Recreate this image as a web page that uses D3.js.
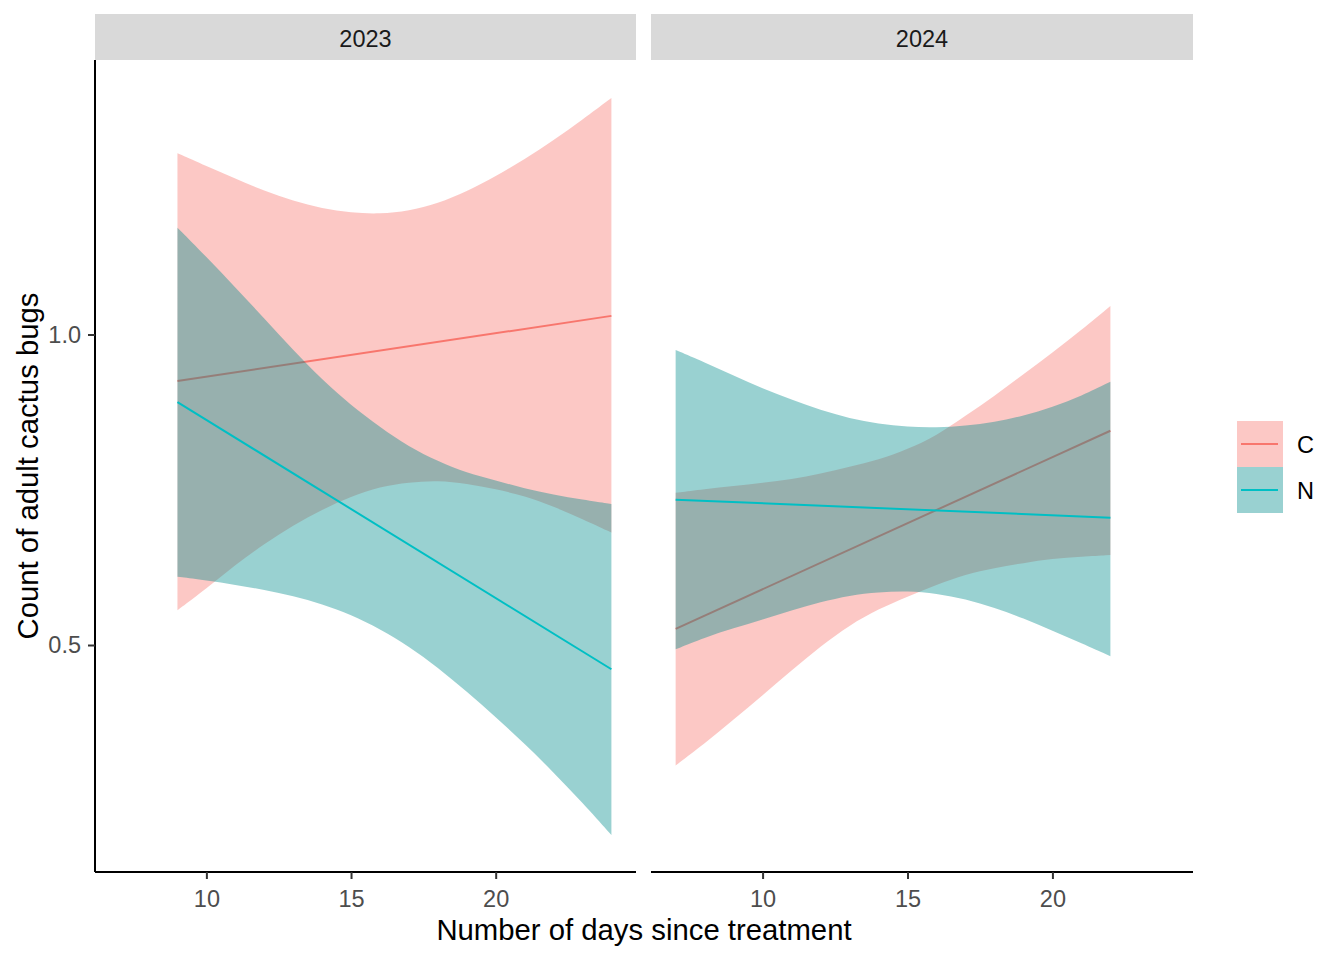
<!DOCTYPE html>
<html>
<head>
<meta charset="utf-8">
<script src="https://cdn.jsdelivr.net/npm/d3@7"></script>
<style>
  html, body { margin: 0; padding: 0; background: #ffffff; }
  svg { display: block; font-family: "Liberation Sans", Arial, sans-serif; }
</style>
</head>
<body>
<svg id="chart" width="1344" height="960"></svg>
<script>
// ---------------- data ----------------
const years = ["2023", "2024"];
const groups = ["C", "N"];

// 2023 panel: confidence ribbons sampled at each day
const days2023 = [9, 10, 11, 12, 13, 14, 15, 16, 17, 18, 19, 20, 21, 22, 23, 24];
const cUpper2023 = [1.292, 1.271, 1.251, 1.231, 1.215, 1.203, 1.196, 1.194, 1.199, 1.211, 1.230, 1.255, 1.282, 1.313, 1.346, 1.381];
const cLower2023 = [0.556, 0.591, 0.629, 0.663, 0.693, 0.718, 0.739, 0.755, 0.762, 0.765, 0.760, 0.751, 0.740, 0.723, 0.703, 0.681];
const nUpper2023 = [1.172, 1.125, 1.076, 1.026, 0.975, 0.927, 0.886, 0.851, 0.819, 0.796, 0.777, 0.765, 0.752, 0.742, 0.734, 0.727];
const nLower2023 = [0.610, 0.604, 0.597, 0.589, 0.579, 0.566, 0.549, 0.526, 0.498, 0.464, 0.425, 0.384, 0.341, 0.295, 0.246, 0.194];

// 2024 panel
const days2024 = [7, 8, 9, 10, 11, 12, 13, 14, 15, 16, 17, 18, 19, 20, 21, 22];
const cUpper2024 = [0.745, 0.751, 0.756, 0.761, 0.767, 0.776, 0.787, 0.798, 0.815, 0.837, 0.869, 0.901, 0.936, 0.971, 1.007, 1.046];
const cLower2024 = [0.306, 0.341, 0.380, 0.419, 0.459, 0.498, 0.532, 0.558, 0.578, 0.597, 0.614, 0.624, 0.632, 0.639, 0.642, 0.645];
const nUpper2024 = [0.975, 0.955, 0.934, 0.913, 0.895, 0.878, 0.865, 0.856, 0.851, 0.850, 0.853, 0.859, 0.869, 0.883, 0.901, 0.924];
const nLower2024 = [0.493, 0.512, 0.527, 0.541, 0.556, 0.569, 0.580, 0.585, 0.587, 0.583, 0.574, 0.560, 0.543, 0.523, 0.503, 0.482];

// fitted straight lines (end points)
const fitDays2023 = [9, 24];
const cFit2023 = [0.925, 1.030];
const nFit2023 = [0.891, 0.461];
const fitDays2024 = [7, 22];
const cFit2024 = [0.526, 0.845];
const nFit2024 = [0.734, 0.705];

const xTicks = [10, 15, 20];
const yTicks = [0.5, 1.0];
const xTitle = "Number of days since treatment";
const yTitle = "Count of adult cactus bugs";

// ---------------- build series ----------------
function ribbon(days, lo, hi) { return days.map((d, i) => ({ x: d, lo: lo[i], hi: hi[i] })); }
function line(days, v) { return days.map((d, i) => ({ x: d, y: v[i] })); }

const panels = [
  { year: "2023",
    series: [
      { g: "C", rib: ribbon(days2023, cLower2023, cUpper2023), fit: line(fitDays2023, cFit2023) },
      { g: "N", rib: ribbon(days2023, nLower2023, nUpper2023), fit: line(fitDays2023, nFit2023) } ] },
  { year: "2024",
    series: [
      { g: "C", rib: ribbon(days2024, cLower2024, cUpper2024), fit: line(fitDays2024, cFit2024) },
      { g: "N", rib: ribbon(days2024, nLower2024, nUpper2024), fit: line(fitDays2024, nFit2024) } ] }
];

// ---------------- styling ----------------
const lineColor = { C: "#F8766D", N: "#00BFC4" };
const fillColor = { C: "#F8766D", N: "#008C8C" };
const fillOpacity = 0.4;

const svg = d3.select("#chart");
const panelTop = 60, panelBottom = 872;
const stripTop = 14;
const panelX = [[95, 636], [651, 1193]];

const y = d3.scaleLinear().domain([0.1345, 1.442]).range([panelBottom, panelTop]);

panels.forEach((p, pi) => {
  const [x0, x1] = panelX[pi];
  const x = d3.scaleLinear().domain([6.15, 24.85]).range([x0, x1]);
  const g = svg.append("g");

  // strip
  g.append("rect").attr("x", x0).attr("y", stripTop).attr("width", x1 - x0).attr("height", panelTop - stripTop)
    .attr("fill", "#D9D9D9");
  g.append("text").attr("x", (x0 + x1) / 2).attr("y", 46.5).attr("text-anchor", "middle")
    .attr("font-size", 23.5).attr("fill", "#1A1A1A").text(p.year);

  const area = d3.area().x(d => x(d.x)).y0(d => y(d.lo)).y1(d => y(d.hi)).curve(d3.curveBasis);
  const ln = d3.line().x(d => x(d.x)).y(d => y(d.y));

  p.series.forEach(s => {
    g.append("path").attr("d", area(s.rib)).attr("fill", fillColor[s.g]).attr("fill-opacity", fillOpacity)
      .attr("stroke", "none");
    g.append("path").attr("d", ln(s.fit)).attr("fill", "none").attr("stroke", lineColor[s.g])
      .attr("stroke-width", 2);
  });

  // x axis
  const xa = g.append("g").attr("transform", `translate(0,${panelBottom})`)
    .call(d3.axisBottom(x).tickValues(xTicks).tickSize(7).tickSizeOuter(0).tickPadding(11).tickFormat(d3.format("d")));
  xa.select(".domain").attr("stroke", "#000").attr("stroke-width", 2).attr("d", `M${x0},0H${x1}`);
  xa.selectAll(".tick line").attr("stroke", "#333333").attr("stroke-width", 2);
  xa.selectAll(".tick text").attr("font-size", 23.5).attr("fill", "#4D4D4D")
    .attr("font-family", "'Liberation Sans', Arial, sans-serif");

  if (pi === 0) {
    const ya = g.append("g").attr("transform", `translate(${x0},0)`)
      .call(d3.axisLeft(y).tickValues(yTicks).tickSize(7).tickSizeOuter(0).tickPadding(7).tickFormat(d3.format(".1f")));
    ya.select(".domain").attr("stroke", "#000").attr("stroke-width", 2).attr("d", `M0,${panelTop}V${panelBottom}`);
    ya.selectAll(".tick line").attr("stroke", "#333333").attr("stroke-width", 2);
    ya.selectAll(".tick text").attr("font-size", 23.5).attr("fill", "#4D4D4D")
      .attr("font-family", "'Liberation Sans', Arial, sans-serif");
  }
});

// axis titles
svg.append("text").attr("x", 644).attr("y", 940).attr("text-anchor", "middle")
  .attr("font-size", 29.3).attr("fill", "#000").text(xTitle);
svg.append("text").attr("transform", `translate(38,466) rotate(-90)`).attr("text-anchor", "middle")
  .attr("font-size", 29.3).attr("fill", "#000").text(yTitle);

// legend
const legend = svg.append("g");
groups.forEach((gname, i) => {
  const ky = 421 + i * 46;
  legend.append("rect").attr("x", 1237).attr("y", ky).attr("width", 46).attr("height", 46)
    .attr("fill", fillColor[gname]).attr("fill-opacity", fillOpacity);
  legend.append("line").attr("x1", 1241).attr("x2", 1278).attr("y1", ky + 23).attr("y2", ky + 23)
    .attr("stroke", lineColor[gname]).attr("stroke-width", 2);
  legend.append("text").attr("x", 1297).attr("y", ky + 31.5).attr("font-size", 23.5).attr("fill", "#000").text(gname);
});
</script>
</body>
</html>
